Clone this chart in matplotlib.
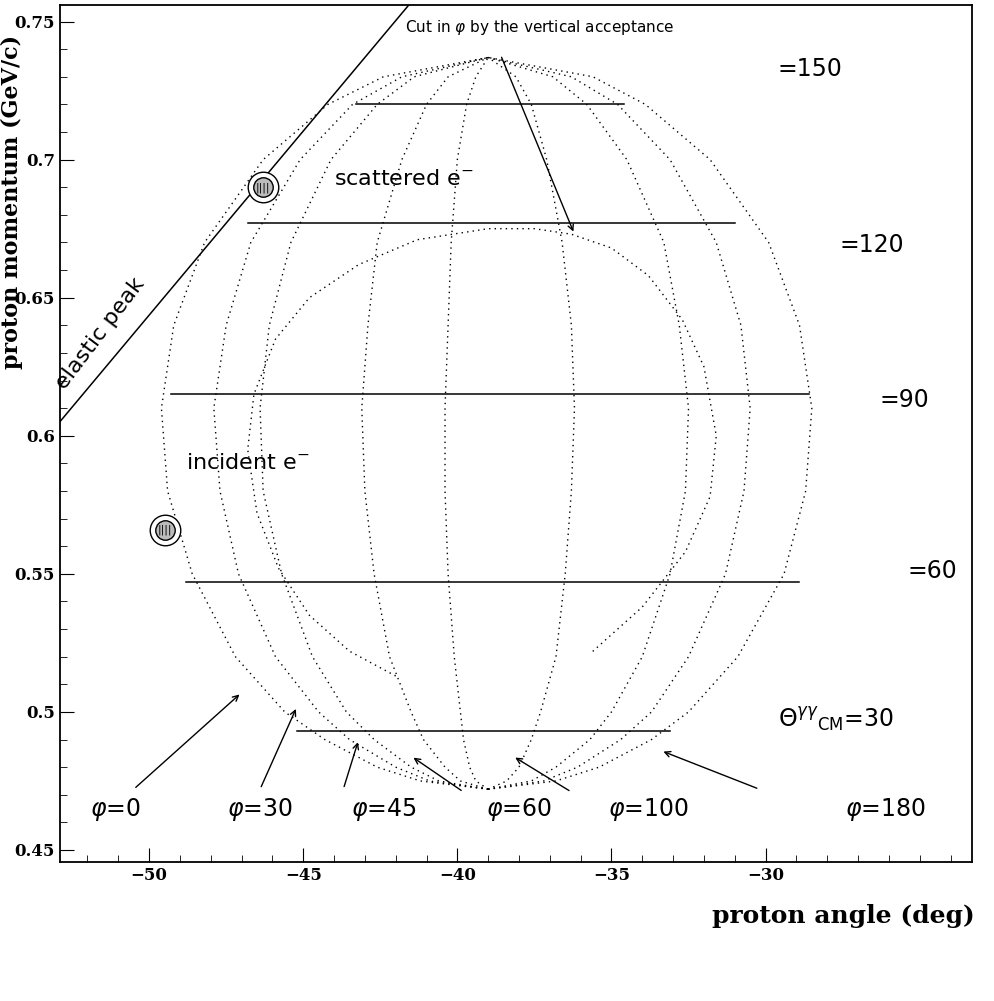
import matplotlib
matplotlib.use('Agg')
import matplotlib.pyplot as plt

# --- data ---
curve_y = [0.472, 0.475, 0.48, 0.49, 0.50, 0.52, 0.55, 0.58, 0.61, 0.64, 0.67, 0.70, 0.72, 0.73, 0.737]
left_curves = {
    '0':  [-39, -41.2, -42.6, -44.3, -45.6, -47.2, -48.6, -49.4, -49.6, -49.2, -48.2, -46.3, -44.2, -42.4, -39],
    '30': [-39, -40.9, -42.0, -43.5, -44.5, -45.9, -47.1, -47.7, -47.9, -47.5, -46.7, -45.1, -43.4, -41.8, -39],
    '45': [-39, -40.6, -41.5, -42.7, -43.6, -44.7, -45.7, -46.3, -46.4, -46.1, -45.4, -44.1, -42.6, -41.4, -39],
    '60': [-39, -39.9, -40.4, -41.1, -41.5, -42.2, -42.7, -43.0, -43.1, -42.9, -42.6, -41.8, -41.0, -40.3, -39],
    '90': [-39, -39.4, -39.6, -39.8, -39.9, -40.1, -40.3, -40.4, -40.4, -40.3, -40.2, -40.0, -39.7, -39.4, -39],
}
right_curves = {
    '100': [-39, -38.4, -38.0, -37.6, -37.3, -36.8, -36.5, -36.3, -36.2, -36.3, -36.6, -37.1, -37.6, -38.1, -39],
    '135': [-39, -37.6, -36.8, -35.7, -35.0, -34.0, -33.1, -32.6, -32.5, -32.8, -33.3, -34.5, -35.8, -36.9, -39],
    '155': [-39, -37.2, -36.1, -34.7, -33.7, -32.5, -31.3, -30.7, -30.5, -30.8, -31.6, -33.1, -34.8, -36.3, -39],
    '180': [-39, -36.8, -35.4, -33.7, -32.5, -30.9, -29.4, -28.7, -28.5, -28.9, -29.9, -31.8, -33.9, -35.6, -39],
}
# acceptance-cut loop
cut_x = [-42.0, -43.5, -44.8, -45.8, -46.5, -46.8, -46.6, -45.9, -44.8, -43.2, -41.3, -39.0, -37.5, -36.3, -35.0, -33.8, -32.7, -32.0, -31.6, -31.8, -32.6, -34.0, -35.7]
cut_y = [0.513, 0.522, 0.535, 0.552, 0.572, 0.595, 0.615, 0.635, 0.650, 0.662, 0.671, 0.675, 0.675, 0.673, 0.668, 0.658, 0.642, 0.625, 0.600, 0.578, 0.558, 0.538, 0.521]

theta_labels = ['=150', '=120', '=90', '=60']
theta_y = [0.720, 0.677, 0.615, 0.547]
theta_x0 = [-43.3, -46.8, -49.3, -48.8]
theta_x1 = [-34.6, -31.0, -28.6, -28.9]
theta_y30 = 0.493
theta_30_x = [-45.2, -33.1]

phi_labels = ['0', '30', '45', '60', '100', '180']
phi_text_x = [-51.1, -46.4, -42.4, -38.0, -33.8, -26.1]
phi_tip = [(-47.0, 0.507), (-45.2, 0.502), (-43.2, 0.490), (-41.5, 0.484), (-38.2, 0.484), (-33.4, 0.486)]
phi_tail = [(-50.5, 0.472), (-46.4, 0.472), (-43.7, 0.472), (-39.8, 0.471), (-36.3, 0.471), (-30.2, 0.472)]

elastic_x = [-52.9, -41.5]
elastic_y = [0.605, 0.757]
electron_pts = [(-46.3, 0.690), (-49.5, 0.566)]

fig = plt.figure(figsize=(9.95, 10.01), dpi=100)
ax = fig.add_axes([0.06, 0.139, 0.917, 0.856])
ax.set_xlim(-52.9, -23.3)
ax.set_ylim(0.4457, 0.756)

dot = dict(color='black', linestyle=(0, (1, 3)), linewidth=1.0)
for xs in list(left_curves.values()) + list(right_curves.values()):
    ax.plot(xs, curve_y, **dot)
ax.plot(cut_x, cut_y, **dot)

for y, a, b in zip(theta_y, theta_x0, theta_x1):
    ax.plot([a, b], [y, y], color='black', lw=1.1)
ax.plot(theta_30_x, [theta_y30] * 2, color='black', lw=1.1)

fs = 17
ax.text(-29.6, 0.733, theta_labels[0], fontsize=fs, va='center')
ax.text(-27.6, 0.669, theta_labels[1], fontsize=fs, va='center')
ax.text(-26.3, 0.613, theta_labels[2], fontsize=fs, va='center')
ax.text(-25.4, 0.551, theta_labels[3], fontsize=fs, va='center')
ax.text(-29.6, 0.497, r'$\Theta^{\gamma\gamma}{}_{\rm CM}$=30', fontsize=fs, va='center')

ax.plot(elastic_x, elastic_y, color='black', lw=1.1)
ax.text(-51.6, 0.637, 'elastic peak', fontsize=16, rotation=53, ha='center', va='center')
for (x, y) in electron_pts:
    ax.plot([x], [y], marker='o', ms=22, mfc='white', mec='black', mew=1)
    ax.plot([x], [y], marker='o', ms=14, mfc='#bbbbbb', mec='black', mew=1)
    ax.text(x, y, '||||', fontsize=8, ha='center', va='center')

ax.text(-44.0, 0.693, r'scattered e$^{-}$', fontsize=16, va='center')
ax.text(-48.8, 0.590, r'incident e$^{-}$', fontsize=16, va='center')
ax.text(-41.7, 0.748, r'Cut in $\varphi$ by the vertical acceptance', fontsize=11, va='center')
ax.annotate('', xy=(-36.2, 0.673), xytext=(-38.6, 0.738),
            arrowprops=dict(arrowstyle='->', lw=1))

for lab, tx, tip, tail in zip(phi_labels, phi_text_x, phi_tip, phi_tail):
    ax.text(tx, 0.4645, r'$\varphi$=' + lab, fontsize=17, ha='center', va='center')
    ax.annotate('', xy=tip, xytext=tail, arrowprops=dict(arrowstyle='->', lw=1))

ax.set_xticks([-50, -45, -40, -35, -30])
ax.set_yticks([0.45, 0.5, 0.55, 0.6, 0.65, 0.7, 0.75])
ax.set_yticklabels(['0.45', '0.5', '0.55', '0.6', '0.65', '0.7', '0.75'])
ax.minorticks_on()
ax.tick_params(which='both', direction='in', top=False, right=False)
ax.tick_params(which='major', length=10)
ax.tick_params(which='minor', length=5)
for lab in ax.get_xticklabels() + ax.get_yticklabels():
    lab.set_fontfamily('DejaVu Serif')
    lab.set_fontweight('bold')
    lab.set_fontsize(12)
for s in ax.spines.values():
    s.set_linewidth(1.3)

ax.set_ylabel('proton momentum (GeV/c)', fontsize=16, fontweight='bold',
              family='DejaVu Serif')
ax.yaxis.set_label_coords(-0.04, 0.77)
fig.text(0.98, 0.085, 'proton angle (deg)', fontsize=18, fontweight='bold',
         family='DejaVu Serif', ha='right', va='center')

plt.savefig('out.png', dpi=100)
